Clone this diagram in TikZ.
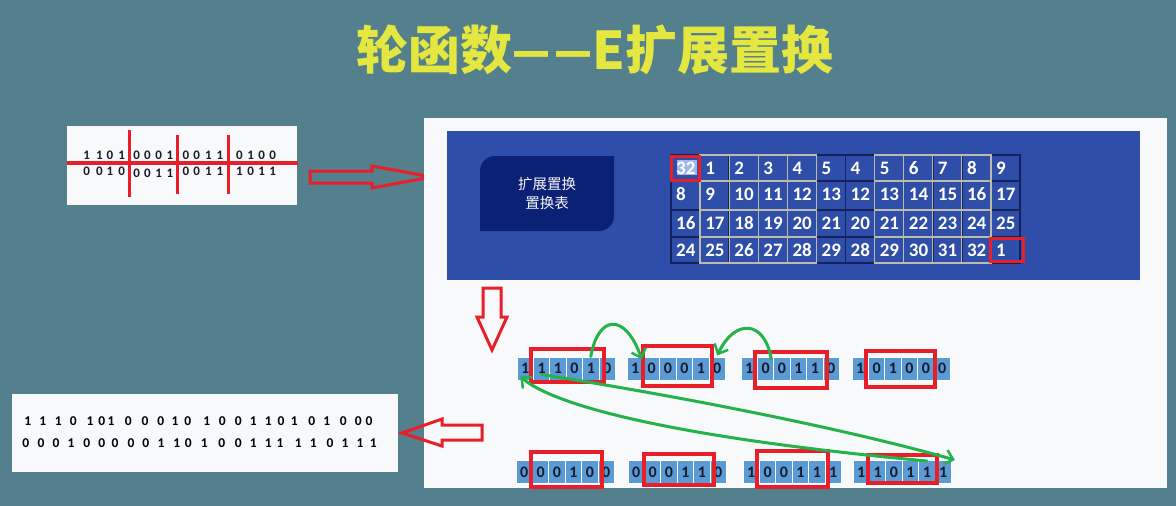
\documentclass[tikz,border=0pt]{standalone}
\usepackage{fontspec}
\setmainfont{Carlito}
\newfontfamily\cjk{Noto Sans CJK SC}
\usetikzlibrary{arrows.meta}

\definecolor{slate}{RGB}{84,127,140}
\definecolor{titleyellow}{RGB}{228,231,64}
\definecolor{paper}{RGB}{248,249,251}
\definecolor{panelblue}{RGB}{47,78,169}
\definecolor{navybox}{RGB}{10,33,118}
\definecolor{gridnavy}{RGB}{22,34,92}
\definecolor{gridgray}{RGB}{190,186,170}
\definecolor{markred}{RGB}{232,30,40}
\definecolor{penGreen}{RGB}{36,178,74}
\definecolor{cellblue}{RGB}{91,155,213}
\definecolor{inkdark}{RGB}{25,27,45}
\definecolor{selblue}{RGB}{160,182,235}

\tikzset{
  redmark/.style={draw=markred, line width=3.5pt},
  hollowarrow/.style={draw=markred, line width=3pt, line join=miter},
  greenpen/.style={draw=penGreen, line width=3pt, line cap=round,
    -{Straight Barb[length=8pt,width=15pt,line width=2.5pt]}},
  bitcell/.style={fill=cellblue, draw=white, line width=1pt, inner sep=0pt,
    minimum width=16.4pt, minimum height=23pt, text=inkdark,
    font=\bfseries\fontsize{16}{16}\selectfont},
  tabnum/.style={anchor=west, text=white, inner sep=0pt,
    font=\bfseries\fontsize{19}{19}\selectfont},
  smallbit/.style={inner sep=0pt, text=inkdark, font=\bfseries\fontsize{13}{13}\selectfont},
  resbit/.style={inner sep=0pt, text=black, font=\bfseries\fontsize{13.5}{13.5}\selectfont},
}

% one group of six bits, drawn as a strip of cells
\newcommand\bitgroup[4]{%
  \foreach \d [count=\i] in {#4} {
    \node[bitcell] (#1-\i) at ({#2+16.4*\i-8.2},#3) {\d};
  }%
}
% a narrowed dash for the heading
\newcommand\headdash{\scalebox{0.8}[1]{—}}

\begin{document}
\begin{tikzpicture}[x=1pt,y=-1pt]
\useasboundingbox (0,0) rectangle (1176,506);
\fill[slate] (0,0) rectangle (1176,506);

% heading
\node[text=titleyellow, font=\cjk\bfseries\fontsize{52}{52}\selectfont, inner sep=0pt]
  (title) at (595,50) {轮函数\headdash\kern4pt\headdash E扩展置换};

% 32-bit input split into 4-bit pieces
\fill[paper] (67,126) rectangle (297,205);
\foreach \d/\px [count=\i] in {1/86.7,1/99.3,0/110,1/121.7,0/136.7,0/147.3,0/158.7,1/170,
    0/186,0/196.7,1/208.3,1/220,0/239.3,1/250.7,0/261.7,0/272.7}
  \node[smallbit] (ina-\i) at (\px,155) {\d};
\foreach \d/\px/\py [count=\i] in {0/86.7/171.7,0/99.3/171.7,1/110/171.7,0/121.7/171.7,
    0/136.7/173,0/147.3/173,1/158.7/173,1/170/173,
    0/186/171.7,0/196.7/171.7,1/208.3/171.7,1/220/171.7,
    1/239.3/171.7,0/250.7/171.7,1/261.7/171.7,1/272.7/171.7}
  \node[smallbit] (inb-\i) at (\px,\py) {\d};
\draw[redmark] (67,163) -- (298,163);
\draw[redmark] (129.3,130) -- (129.3,197);
\draw[redmark] (177.3,135) -- (177.3,194);
\draw[redmark] (228.3,135) -- (228.3,194);

% hollow arrow to the table
\draw[hollowarrow] (310,171) -- (372,171) -- (372,166) -- (432,177) -- (372,188)
  -- (372,183) -- (310,183) -- cycle;

% main panel
\fill[paper] (424,118) rectangle (1167,488);
\fill[panelblue] (447,131) rectangle (1140,280);

% caption box with two rounded corners
\fill[navybox] (480,231) -- (480,171) .. controls (480,162.7) and (486.7,156) .. (495,156)
  -- (614,156) -- (614,216) .. controls (614,224.3) and (607.3,231) .. (599,231) -- cycle;
\node[text=white!92!gray, align=center, inner sep=0pt,
  font=\cjk\fontsize{14.5}{19}\selectfont] (caption) at (547,193) {扩展置换\\置换表};

% expansion table grid
\def\cw{29.083}
\draw[gridnavy, line width=1.5pt] (671,155) rectangle (1020,263);
\foreach \c in {1,...,11}
  \draw[gridnavy, line width=1.5pt] ({671+\cw*\c},155) -- ({671+\cw*\c},263);
\foreach \ry in {181,210,237}
  \draw[gridnavy, line width=1.5pt] (671,\ry) -- (1020,\ry);
\foreach \cs in {1,7} {
  \foreach \c in {0,...,3} {
    \foreach \ra/\rb in {155/181,181/210,210/237,237/263}
      \draw[gridgray, line width=1.2pt]
        ({671+\cw*(\cs+\c)},\ra) rectangle ({671+\cw*(\cs+\c+1)},\rb);
  }
}
\fill[selblue] (677,160) rectangle (697,175);
\foreach \row/\ry in {{32,1,2,3,4,5,4,5,6,7,8,9}/168,
                      {8,9,10,11,12,13,12,13,14,15,16,17}/194.5,
                      {16,17,18,19,20,21,20,21,22,23,24,25}/223.5,
                      {24,25,26,27,28,29,28,29,30,31,32,1}/250} {
  \foreach \n [count=\c from 0] in \row
    \node[tabnum] (t-\ry-\c) at ({671+\cw*\c+5},\ry) {\n};
}
\draw[redmark, line width=3pt] (671,156) rectangle (699,180);
\draw[redmark, line width=3pt] (990,238) rectangle (1023,261);

% hollow arrow down to the expanded bits
\draw[hollowarrow] (483,288) -- (501,288) -- (501,317) -- (507,317) -- (492,350)
  -- (477,317) -- (483,317) -- cycle;

% expanded 48 bits, upper half
\bitgroup{m1}{517}{368.5}{1,1,1,0,1,0}
\bitgroup{m2}{627}{368.5}{1,0,0,0,1,0}
\bitgroup{m3}{741}{368.5}{1,0,0,1,1,0}
\bitgroup{m4}{852}{368.5}{1,0,1,0,0,0}
% lower half
\bitgroup{b1}{516}{472}{0,0,0,1,0,0}
\bitgroup{b2}{628}{472}{0,0,0,1,1,0}
\bitgroup{b3}{743}{472}{1,0,0,1,1,1}
\bitgroup{b4}{853}{472}{1,1,0,1,1,1}

% the original 4-bit pieces inside each 6-bit group
\draw[redmark] (531,349) rectangle (604,382);
\draw[redmark] (643,346) rectangle (712,386);
\draw[redmark] (755,352) rectangle (827,388);
\draw[redmark] (866,351) rectangle (935,387);
\draw[redmark] (531,452) rectangle (602,487);
\draw[redmark] (644,454) rectangle (714,485);
\draw[redmark] (757,451) rectangle (828,487);
\draw[redmark] (868,455) rectangle (937,483);

% where the borrowed edge bits come from
\draw[greenpen] (m1-5.north) .. controls (598,315) and (625,312)
  .. ([xshift=-2pt,yshift=-3pt]m2-1.north east);
\draw[greenpen] ([xshift=-3pt,yshift=-3pt]m3-2.north east) .. controls (765,320) and (735,318)
  .. ([yshift=1pt]m2-6.north);
\draw[greenpen] ([yshift=-6pt]m1-2.center) .. controls (690,398) and (850,430)
  .. ([xshift=3pt]b4-6.north east);
\draw[greenpen] ([yshift=-1pt]b4-5.north) .. controls (700,440) and (560,410)
  .. ([xshift=-5pt,yshift=-8pt]m1-1.center);

% hollow arrow to the result
\draw[hollowarrow] (402,433) -- (442,419) -- (442,425) -- (482,425) -- (482,440)
  -- (442,440) -- (442,446) -- cycle;

% 48-bit result
\fill[paper] (12,394) rectangle (398,472);
\foreach \d/\px [count=\i] in {1/27.7,1/42.7,1/58.3,0/73.3,1/90,0/101.7,
    1/111,0/128.3,0/145,0/160.7,1/175,0/187.7,
    1/206.7,0/222.3,0/238.3,1/253.3,1/268.3,0/281,
    1/294.3,0/311.7,1/326.7,0/343.3,0/358.3,0/369}
  \node[resbit] (r1-\i) at (\px,421) {\d};
\foreach \d/\px [count=\i] in {0/25.7,0/41,0/56,1/71,0/86.7,0/101.7,
    0/115,0/131,0/145.7,1/161,1/176.7,0/188.3,
    1/204.3,0/221.7,0/238.3,1/253.3,1/268.3,1/280,
    1/298.3,1/313.3,0/330,1/345,1/360,1/373.3}
  \node[resbit] (r2-\i) at (\px,443.3) {\d};
\end{tikzpicture}
\end{document}
